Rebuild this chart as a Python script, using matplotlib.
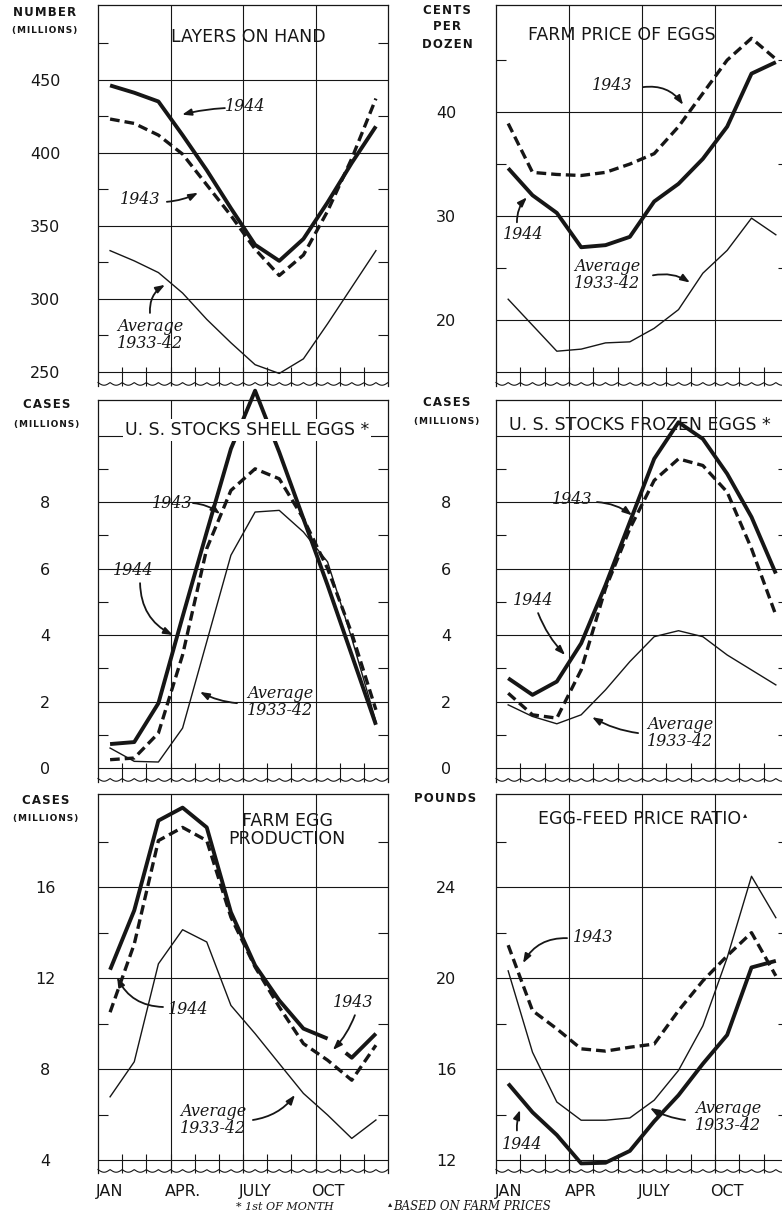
import numpy as np
import matplotlib.pyplot as plt

# monthly values, Jan..Dec
layers_1944 = [446, 441, 435, 412, 388, 362, 337, 326, 341, 366, 393, 418]
layers_1943 = [423, 420, 412, 399, 378, 357, 334, 316, 330, 360, 396, 437]
layers_avg = [333, 326, 318, 304, 286, 270, 255, 249, 259, 283, 308, 333]

price_1944 = [34.6, 32.0, 30.3, 27.0, 27.2, 28.0, 31.4, 33.1, 35.5, 38.6, 43.7, 44.8]
price_1943 = [38.9, 34.2, 34.0, 33.9, 34.2, 35.0, 36.0, 38.6, 41.8, 45.0, 47.1, 45.1]
price_avg = [22.0, 19.5, 17.0, 17.2, 17.8, 17.9, 19.2, 21.0, 24.5, 26.7, 29.8, 28.2]

shell_1944 = [0.72, 0.78, 1.95, 4.55, 7.1, 9.6, 11.35, 9.5, 7.5, 5.5, 3.4, 1.3]
shell_1943 = [0.25, 0.3, 1.05, 3.4, 6.6, 8.35, 9.0, 8.7, 7.5, 6.0, 4.05, 1.75]
shell_avg = [0.6, 0.2, 0.18, 1.2, 3.8, 6.4, 7.7, 7.75, 7.1, 6.2, 3.9, 1.4]

frozen_1944 = [2.7, 2.2, 2.6, 3.75, 5.5, 7.4, 9.3, 10.4, 9.9, 8.85, 7.55, 5.85]
frozen_1943 = [2.25, 1.6, 1.5, 2.95, 5.4, 7.2, 8.65, 9.3, 9.1, 8.3, 6.6, 4.6]
frozen_avg = [1.9, 1.55, 1.33, 1.6, 2.35, 3.2, 3.95, 4.13, 3.95, 3.4, 2.95, 2.5]

prod_1944 = [12.37, 14.98, 18.93, 19.5, 18.63, 14.9, 12.56, 11.02, 9.78, 9.34, 8.5, 9.56]
prod_1943 = [10.5, 13.5, 18.05, 18.63, 18.05, 14.68, 12.49, 10.73, 9.12, 8.39, 7.51, 9.05]
prod_avg = [6.78, 8.32, 12.63, 14.13, 13.59, 10.8, 9.56, 8.24, 6.93, 5.98, 4.95, 5.76]

ratio_1944 = [15.36, 14.1, 13.1, 11.85, 11.88, 12.4, 13.7, 14.85, 16.23, 17.5, 20.47, 20.76]
ratio_1943 = [21.45, 18.57, 17.77, 16.89, 16.79, 16.96, 17.1, 18.57, 19.88, 20.98, 22.0, 20.1]
ratio_avg = [20.32, 16.74, 14.55, 13.75, 13.75, 13.85, 14.63, 15.94, 17.9, 20.9, 24.48, 22.66]

months_left = ['JAN', 'APR.', 'JULY', 'OCT']
months_right = ['JAN', 'APR', 'JULY', 'OCT']

W, H = 782, 1220
INK = '#161616'
HAIR = '\u200a'
fig = plt.figure(figsize=(W / 100, H / 100), dpi=100)

x = np.arange(12) + 0.5   # middle of each month

COLS = {'L': (98, 388, 45), 'R': (496, 788, 446)}   # left, right, centre of tick labels
ROWS = [(5, 372, 386), (400, 768, 782), (794, 1160, 1173)]   # top, bottom grid line, bottom edge

thick = dict(color=INK, lw=2.8, solid_capstyle='butt', zorder=3)
dashed = dict(color=INK, lw=2.4, ls=(0, (2.9, 1.5)), zorder=3)
thin = dict(color=INK, lw=1.0, zorder=3)


def panel(col, row, lo, hi, major, labels, minor, xlabels=None):
    x0, x1, lab_x = COLS[col]
    top, grid, bot = ROWS[row]
    ax = fig.add_axes([x0 / W, 1 - bot / H, (x1 - x0) / W, (bot - top) / H])
    ax.set_xlim(0, 12)
    ax.set_ylim(lo - (bot - grid) / (grid - top) * (hi - lo), hi)

    ax.set_yticks(major, labels)
    ax.set_yticks(minor, minor=True)
    ax.grid(axis='y', which='major', color=INK, lw=0.8)
    ax.tick_params(axis='y', which='major', length=0, pad=(x0 - lab_x) * 0.72,
                   labelsize=11.5, labelcolor=INK)
    for t in ax.get_yticklabels():
        t.set_horizontalalignment('center')
    ax.tick_params(axis='y', which='minor', direction='in', length=7, width=0.8,
                   left=True, right=True, color=INK)

    ax.set_xticks([0.5, 3.5, 6.5, 9.5], xlabels if xlabels else [''] * 4)
    ax.set_xticks(np.arange(1, 12), minor=True)
    ax.tick_params(axis='x', which='major', length=0, pad=8, labelsize=11.5, labelcolor=INK)
    ax.tick_params(axis='x', which='minor', direction='in', length=14, width=0.8, color=INK)
    for v in (3, 6, 9):
        ax.axvline(v, color=INK, lw=0.8, zorder=1)

    ax.spines['bottom'].set_visible(False)
    for s in ('left', 'right', 'top'):
        ax.spines[s].set_linewidth(0.9)
        ax.spines[s].set_color(INK)
    # scalloped break line along the bottom
    xs = np.linspace(0, 12, 1500)
    ax.plot(xs, 0.002 + 0.007 * (1 - np.abs(np.sin(np.pi * xs / 0.5))),
            transform=ax.get_xaxis_transform(), color=INK, lw=0.8, clip_on=False)
    return ax


def title(ax, text, tx, ty, **kw):
    return ax.text(tx, ty, text, transform=ax.transAxes, ha='center', va='center',
                   fontsize=12.5, color=INK, linespacing=1.0, zorder=5, **kw)


def note(ax, text, pos, tail, tip, rad=0.0):
    ax.text(pos[0], pos[1], text, ha='center', va='center', fontsize=11.5,
            family='DejaVu Serif', style='italic', color=INK, linespacing=1.0, zorder=5)
    ax.annotate('', xy=tip, xytext=tail,
                arrowprops=dict(arrowstyle='-|>,head_length=0.55,head_width=0.2',
                                connectionstyle=f'arc3,rad={rad}', color=INK, lw=1.3,
                                shrinkA=0, shrinkB=0))


def unit(lines, cx, ys, sizes):
    for s, y, fs in zip(lines, ys, sizes):
        fig.text(cx / W, 1 - y / H, HAIR.join(s), ha='center', va='center', fontsize=fs,
                 color=INK, fontweight='bold')


# ---- LAYERS ON HAND ----
ax = panel('L', 0, 250, 501, [250, 300, 350, 400, 450], ['250', '300', '350', '400', '450'],
           [275, 325, 375, 425, 475])
ax.plot(x, layers_1944, **thick)
ax.plot(x, layers_1943, **dashed)
ax.plot(x, layers_avg, **thin)
title(ax, 'LAYERS ON HAND', 0.52, 0.916)
note(ax, '1944', (6.08, 431.5), (5.25, 430.5), (3.48, 426), rad=0.05)
note(ax, '1943', (1.74, 367.8), (2.85, 366.4), (4.14, 372.6), rad=0.1)
note(ax, 'Average\n1933-42', (2.15, 275), (2.15, 290.4), (2.77, 309.6), rad=-0.3)
unit(['NUMBER', '(MILLIONS)'], 45, [12, 30], [8.5, 6.5])

# ---- FARM PRICE OF EGGS ----
ax = panel('R', 0, 15, 50.3, [15, 20, 30, 40], ['', '20', '30', '40'], [25, 35, 45])
ax.plot(x, price_1944, **thick)
ax.plot(x, price_1943, **dashed)
ax.plot(x, price_avg, **thin)
title(ax, 'FARM PRICE OF EGGS', 0.43, 0.921)
note(ax, '1943', (4.77, 42.6), (6.04, 42.4), (7.69, 40.7), rad=-0.3)
note(ax, '1944', (1.11, 28.2), (0.86, 29.4), (1.27, 31.8), rad=-0.2)
note(ax, 'Average\n1933-42', (4.56, 24.3), (6.45, 24.3), (7.97, 23.6), rad=-0.2)
unit(['CENTS', 'PER', 'DOZEN'], 447, [11, 27, 44], [8.5, 8.5, 8.5])

# ---- U. S. STOCKS SHELL EGGS ----
ax = panel('L', 1, 0, 11.07, [0, 2, 4, 6, 8, 10], ['0', '2', '4', '6', '8', ''], [1, 3, 5, 7, 9])
for ln in (ax.plot(x, shell_1944, **thick) + ax.plot(x, shell_1943, **dashed)
           + ax.plot(x, shell_avg, **thin)):
    ln.set_clip_on(False)
title(ax, 'U. S. STOCKS SHELL EGGS *', 0.514, 0.921,
      bbox=dict(facecolor='white', edgecolor='none', pad=1.5))
note(ax, '1943', (3.06, 7.97), (3.93, 7.97), (5.05, 7.64), rad=-0.15)
note(ax, '1944', (1.45, 5.95), (1.74, 5.56), (3.1, 4.0), rad=0.3)
note(ax, 'Average\n1933-42', (7.53, 1.98), (5.75, 1.95), (4.22, 2.29), rad=-0.1)
unit(['CASES', '(MILLIONS)'], 47, [405, 424], [8.5, 6.5])

# ---- U. S. STOCKS FROZEN EGGS ----
ax = panel('R', 1, 0, 11.07, [0, 2, 4, 6, 8, 10], ['0', '2', '4', '6', '8', ''], [1, 3, 5, 7, 9])
ax.plot(x, frozen_1944, **thick)
ax.plot(x, frozen_1943, **dashed)
ax.plot(x, frozen_avg, **thin)
title(ax, 'U. S. STOCKS FROZEN EGGS *', 0.493, 0.935).set_zorder(2)
note(ax, '1943', (3.12, 8.09), (4.15, 8.0), (5.59, 7.6), rad=-0.15)
note(ax, '1944', (1.52, 5.05), (1.73, 4.66), (2.84, 3.4), rad=0.1)
note(ax, 'Average\n1933-42', (7.56, 1.05), (5.84, 1.05), (3.95, 1.53), rad=-0.1)
unit(['CASES', '(MILLIONS)'], 447, [403, 422], [8.5, 6.5])

# ---- FARM EGG PRODUCTION ----
ax = panel('L', 2, 4, 20.1, [4, 8, 12, 16], ['4', '8', '12', '16'], [6, 10, 14, 18],
           months_left)
ax.plot(x[:10], prod_1944[:10], **thick)
# 1944 line picks up again just short of November
f = 0.75
ax.plot([x[9] + f, x[10], x[11]],
        [prod_1944[9] + f * (prod_1944[10] - prod_1944[9]), prod_1944[10], prod_1944[11]], **thick)
ax.plot(x, prod_1943, **dashed)
ax.plot(x, prod_avg, **thin)
title(ax, 'FARM EGG\nPRODUCTION', 0.652, 0.905)
note(ax, '1944', (3.72, 10.64), (2.69, 10.73), (0.79, 12.04), rad=-0.3)
note(ax, '1943', (10.55, 10.95), (10.63, 10.37), (9.72, 8.84), rad=-0.1)
note(ax, 'Average\n1933-42', (4.76, 5.76), (6.41, 5.76), (8.15, 6.86), rad=0.2)
unit(['CASES', '(MILLIONS)'], 46, [801, 818], [8.5, 6.5])

# ---- EGG-FEED PRICE RATIO ----
ax = panel('R', 2, 12, 28.1, [12, 16, 20, 24], ['12', '16', '20', '24'], [14, 18, 22, 26],
           months_right)
ax.plot(x, ratio_1944, **thick)
ax.plot(x, ratio_1943, **dashed)
ax.plot(x, ratio_avg, **thin)
t = title(ax, 'EGG-FEED PRICE RATIO', 0.49, 0.934)
ax.annotate('\u25b4', xy=(1, 1), xycoords=t, xytext=(2, 0), textcoords='offset points',
            ha='left', va='top', fontsize=6, color=INK)
note(ax, '1943', (3.99, 21.8), (2.92, 21.76), (1.11, 20.66), rad=0.3)
note(ax, '1944', (1.07, 12.66), (0.86, 13.3), (0.99, 14.2), rad=-0.1)
note(ax, 'Average\n1933-42', (9.54, 13.9), (7.77, 13.76), (6.33, 14.29), rad=-0.1)
unit(['POUNDS'], 445, [798], [8.5])

# ---- footnotes ----
fig.text(285 / W, 1 - 1207 / H, '* 1st OF MONTH', ha='center', va='center', fontsize=8,
         family='DejaVu Serif', style='italic', color=INK)
fn = fig.text(472 / W, 1 - 1207 / H, 'BASED ON FARM PRICES', ha='center', va='center',
              fontsize=8.5, family='DejaVu Serif', style='italic', color=INK)
plt.annotate('\u25b4', xy=(0, 1), xycoords=fn, xytext=(-1, 1), textcoords='offset points',
             ha='right', va='top', fontsize=6, color=INK)

fig.savefig('out.png', dpi=100, facecolor='white')
